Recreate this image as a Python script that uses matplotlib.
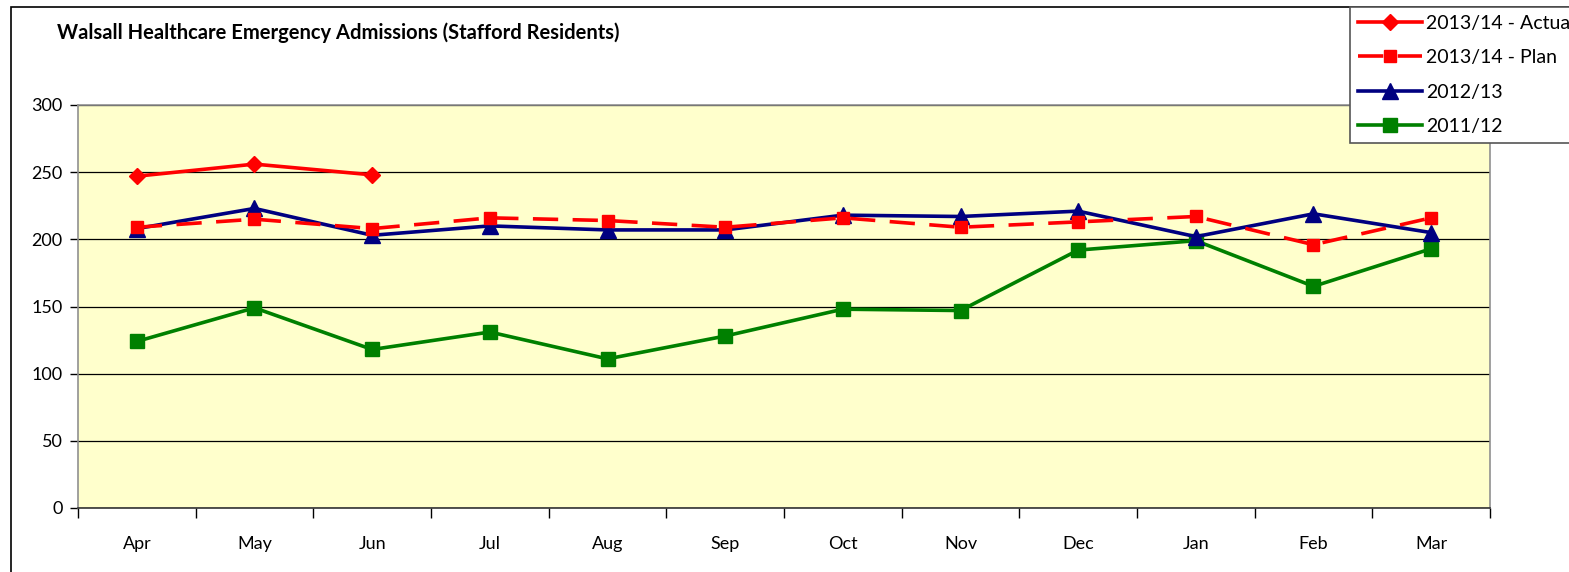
import numpy as np
import matplotlib.pyplot as plt
from matplotlib.patches import Rectangle

plt.rcParams["font.family"] = ["Lato", "DejaVu Sans"]

months = ["Apr", "May", "Jun", "Jul", "Aug", "Sep", "Oct", "Nov", "Dec", "Jan", "Feb", "Mar"]
actual_1314 = [247, 256, 248]
plan_1314 = [209, 215, 208, 216, 214, 209, 216, 209, 213, 217, 196, 216]
y_1213 = [208, 223, 203, 210, 207, 207, 218, 217, 221, 202, 219, 205]
y_1112 = [124, 149, 118, 131, 111, 128, 148, 147, 192, 199, 165, 193]

fig = plt.figure(figsize=(15.69, 5.72), dpi=100)
ax = fig.add_axes([78 / 1569, 1 - 508 / 572, 1412 / 1569, 403 / 572])
ax.set_facecolor("#FFFFCC")

x = np.arange(len(months))
lw = 2.6
ax.plot(x[:len(actual_1314)], actual_1314, color="#FF0000", lw=lw, marker="D", ms=8.5,
        label="2013/14 - Actual", zorder=5)
ax.plot(x, plan_1314, color="#FF0000", lw=lw, marker="s", ms=8.5, dashes=(7, 4),
        label="2013/14 - Plan", zorder=4)
ax.plot(x, y_1213, color="#000080", lw=lw, marker="^", ms=11,
        label="2012/13", zorder=3)
ax.plot(x, y_1112, color="#008000", lw=lw, marker="s", ms=10.5,
        label="2011/12", zorder=2)

ax.set_xlim(-0.5, len(months) - 0.5)
ax.set_ylim(0, 300)
ax.set_yticks(np.arange(0, 301, 50))
ax.yaxis.grid(True, color="black", lw=0.9)
ax.set_axisbelow(True)

ax.set_xticks(np.arange(-0.5, len(months), 1))
ax.set_xticklabels([])
ax.set_xticks(x, minor=True)
ax.set_xticklabels(months, minor=True, fontsize=13)
ax.tick_params(axis="x", which="major", direction="out", length=7, width=1, color="black")
ax.tick_params(axis="x", which="minor", length=0, pad=20)
ax.tick_params(axis="y", direction="out", length=6, width=1, labelsize=13, pad=5)

for s in ["left", "top", "right"]:
    ax.spines[s].set_color("#909090")
    ax.spines[s].set_linewidth(1.2)
ax.spines["bottom"].set_color("#333333")
ax.spines["bottom"].set_linewidth(1.2)

fig.patches.append(Rectangle((11 / 1569, -0.1), 1.2, 1 - 7 / 572 + 0.1,
                             transform=fig.transFigure, fill=False,
                             edgecolor="black", lw=1.2, zorder=0))

fig.text(57 / 1569, 1 - 33 / 572, "Walsall Healthcare Emergency Admissions (Stafford Residents)",
         fontsize=14.5, fontweight="bold", va="center", ha="left")

leg = fig.legend(loc="upper left", bbox_to_anchor=(1350 / 1569, 1 - 7 / 572),
                 fontsize=14, frameon=True, fancybox=False, handlelength=3.3,
                 handletextpad=0.2, borderpad=0.4, labelspacing=0.9, borderaxespad=0)
leg.get_frame().set_edgecolor("#555555")
leg.get_frame().set_linewidth(1.2)
leg.get_frame().set_alpha(1)

fig.savefig("out.png", dpi=100)
